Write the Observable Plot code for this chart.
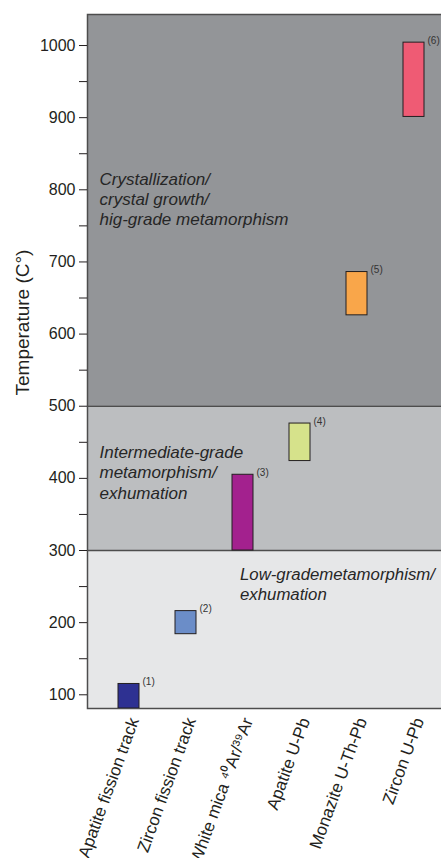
<!DOCTYPE html>
<html>
<head>
<meta charset="utf-8">
<script src="https://cdn.jsdelivr.net/npm/d3@7"></script>
<script src="https://cdn.jsdelivr.net/npm/@observablehq/plot@0.6"></script>
<style>
  html, body { margin: 0; padding: 0; background: #fff; overflow: hidden; }
  #chart { width: 441px; height: 858px; overflow: hidden; }
  #chart svg { display: block; max-width: none !important; width: 445px !important; height: 858px !important; }
</style>
</head>
<body>
<div id="chart"></div>
<script>
// ---- data ----
const categories = ["Apatite fission track", "Zircon fission track", "White mica ⁴⁰Ar/³⁹Ar", "Apatite U-Pb", "Monazite U-Th-Pb", "Zircon U-Pb"];
const tempLow  = [81, 184, 300, 424, 626, 901];
const tempHigh = [115, 216, 405, 476, 686, 1004];
const notes = ["(1)", "(2)", "(3)", "(4)", "(5)", "(6)"];
const barColors = ["#2e3192", "#6b8dc8", "#a3218e", "#d6e28b", "#f9a64a", "#ef5b74"];

const zoneLow  = [81, 300, 500];
const zoneHigh = [300, 500, 1043];
const zoneColors = ["#e6e7e8", "#bcbec0", "#939598"];
const zoneLabels = ["Low-grademetamorphism/\nexhumation", "Intermediate-grade\nmetamorphism/\nexhumation", "Crystallization/\ncrystal growth/\nhig-grade metamorphism"];
const zoneLabelTemp = [254, 409, 788];

const majorTicks = [100, 200, 300, 400, 500, 600, 700, 800, 900, 1000];
const minorTicks = [150, 250, 350, 450, 550, 650, 750, 850, 950];
const yLabel = "Temperature (C°)";

const bars = categories.map((c, i) => ({cat: c, low: tempLow[i], high: tempHigh[i], note: notes[i], color: barColors[i]}));
const zones = zoneLow.map((l, i) => ({low: l, high: zoneHigh[i], color: zoneColors[i], label: zoneLabels[i], t: zoneLabelTemp[i]}));

const font = "'Liberation Sans', Arial, Helvetica, sans-serif";
const ink = "#231f20";

const chart = Plot.plot({
  width: 445,
  height: 858,
  marginTop: 14,
  marginLeft: 87,
  marginRight: 0,
  marginBottom: 150,
  style: {fontFamily: font, fontSize: "16px", color: ink, background: "#fff"},
  x: {domain: categories, paddingInner: 0.637, paddingOuter: 0.4135, align: 0.6, axis: null},
  y: {domain: [81, 1043], axis: null},
  marks: [
    Plot.rectY(zones, {y1: "low", y2: "high", fill: "color"}),
    Plot.ruleY([300, 500], {stroke: "#4d4d4d", strokeWidth: 1.5}),
    Plot.frame({stroke: "#4d4d4d", strokeWidth: 1.5}),
    Plot.barY(bars, {x: "cat", y1: "low", y2: "high", fill: "color", stroke: ink, strokeWidth: 1, clip: true}),
    Plot.text(bars, {x: "cat", y: "high", text: "note", dx: 13.5, dy: -2, textAnchor: "start", fontSize: 10, fill: "#333"}),
    // zone labels
    Plot.text(zones.filter((d, i) => i > 0), {y: "t", text: "label", frameAnchor: "left", dx: 12, textAnchor: "start", lineAnchor: "middle", lineHeight: 1.2, fontSize: 17, fontStyle: "italic", fill: "#262626"}),
    Plot.text(zones.filter((d, i) => i === 0), {x: () => categories[2], y: "t", text: "label", dx: -3, textAnchor: "start", lineAnchor: "middle", lineHeight: 1.2, fontSize: 16.8, fontStyle: "italic", fill: "#262626"}),
    // axes
    Plot.axisY({ticks: majorTicks, tickSize: 8, tickPadding: 4, tickFormat: d => String(d), fontSize: 16, stroke: ink, fill: ink, label: null}),
    Plot.axisY({ticks: minorTicks, tickSize: 8, tickFormat: () => "", stroke: ink, label: null}),
    Plot.axisX({tickSize: 0, tickRotate: -70, tickPadding: 10, dx: 5, fontSize: 17, fill: ink, label: null}),
    Plot.text([yLabel], {frameAnchor: "left", y: () => 616, dx: -65, rotate: -90, textAnchor: "middle", fontSize: 19, fill: ink})
  ]
});
document.getElementById("chart").appendChild(chart);
</script>
</body>
</html>
